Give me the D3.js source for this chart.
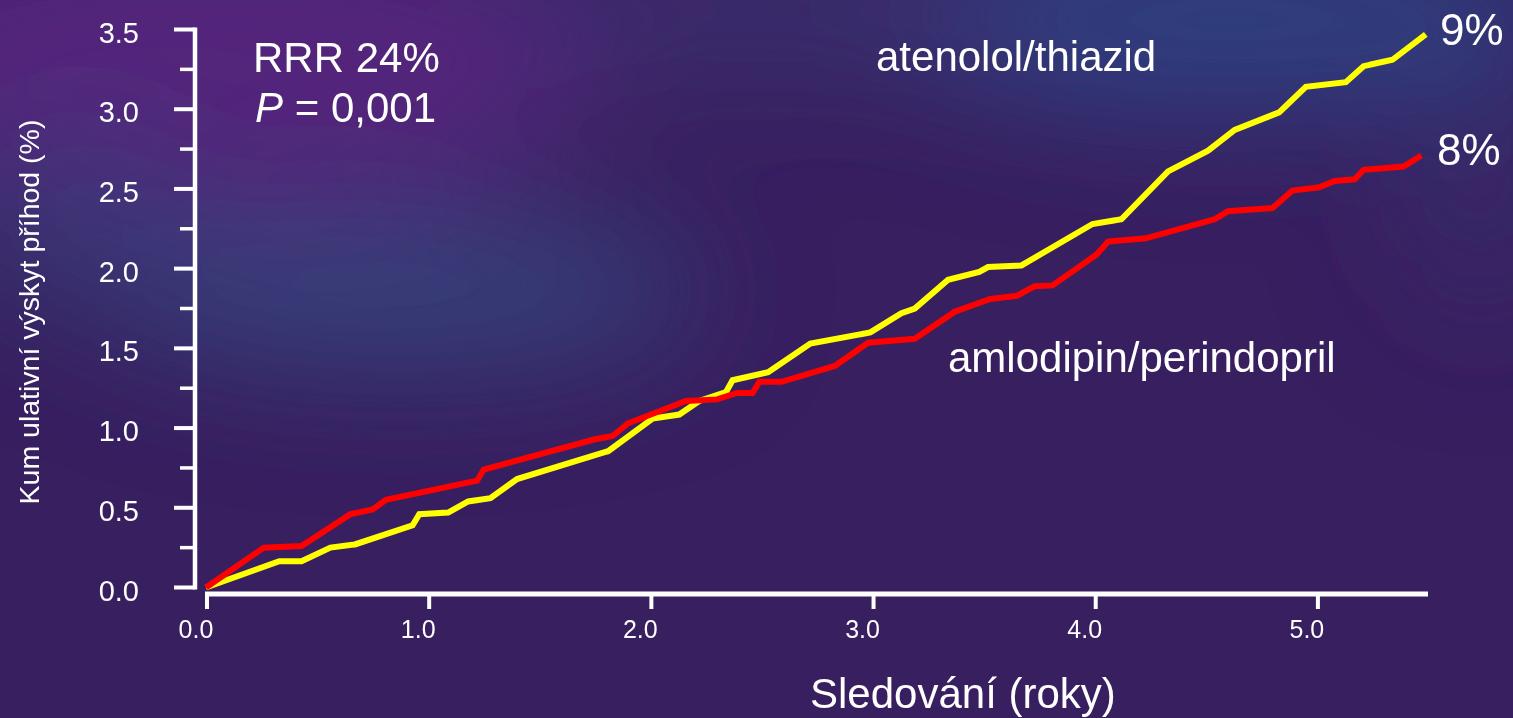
<!DOCTYPE html>
<html><head><meta charset="utf-8">
<script src="https://cdn.jsdelivr.net/npm/d3@7"></script>
<style>
html,body{margin:0;padding:0;background:#381f60;overflow:hidden;}
svg{display:block;font-family:"Liberation Sans",Arial,sans-serif;}
</style></head><body>
<svg id="c" width="1513" height="718"></svg>
<script>
// ---- data ----
const atenololT = [0, 0.33, 0.43, 0.56, 0.67, 0.93, 0.96, 1.09, 1.18, 1.28, 1.40, 1.81, 2.01, 2.13, 2.22, 2.34, 2.37, 2.53, 2.72, 2.99, 3.13, 3.19, 3.34, 3.48, 3.52, 3.67, 3.99, 4.12, 4.33, 4.51, 4.63, 4.83, 4.95, 5.13, 5.21, 5.34, 5.49];
const atenololV = [0, 0.165, 0.165, 0.25, 0.27, 0.39, 0.46, 0.47, 0.54, 0.56, 0.68, 0.855, 1.06, 1.085, 1.17, 1.225, 1.30, 1.35, 1.53, 1.60, 1.72, 1.75, 1.93, 1.98, 2.01, 2.02, 2.28, 2.31, 2.61, 2.74, 2.87, 2.98, 3.14, 3.17, 3.27, 3.31, 3.47];
const amlodipinT = [0, 0.26, 0.43, 0.65, 0.75, 0.81, 1.22, 1.25, 1.75, 1.83, 1.90, 2.16, 2.30, 2.39, 2.46, 2.49, 2.59, 2.83, 2.98, 3.19, 3.37, 3.53, 3.65, 3.73, 3.81, 4.01, 4.06, 4.23, 4.54, 4.60, 4.80, 4.89, 5.01, 5.08, 5.17, 5.21, 5.39, 5.47];
const amlodipinV = [0, 0.25, 0.26, 0.46, 0.49, 0.55, 0.67, 0.74, 0.93, 0.95, 1.03, 1.17, 1.18, 1.22, 1.22, 1.29, 1.29, 1.39, 1.535, 1.56, 1.73, 1.81, 1.83, 1.89, 1.895, 2.09, 2.17, 2.19, 2.31, 2.36, 2.38, 2.49, 2.51, 2.55, 2.56, 2.62, 2.64, 2.71];
const xTicks = [0, 1, 2, 3, 4, 5];
const yMajorTicks = [0, 0.5, 1, 1.5, 2, 2.5, 3, 3.5];
const yMinorTicks = [0.25, 0.75, 1.25, 1.75, 2.25, 2.75, 3.25];
const seriesNames = ["atenolol/thiazid", "amlodipin/perindopril"];
const endLabels = ["9%", "8%"];
const xTitle = "Sledování (roky)";
const yTitle = "Kum ulativní výskyt příhod (%)";

// ---- drawing ----
const svg = d3.select("#c");
const W = 1513, H = 718;

// background
const defs = svg.append("defs");
defs.append("filter").attr("id","blur").attr("x","-50%").attr("y","-50%").attr("width","200%").attr("height","200%")
  .append("feGaussianBlur").attr("stdDeviation", 65);
svg.append("rect").attr("width", W).attr("height", H).attr("fill", "#381f60");
const bg = svg.append("g").attr("filter","url(#blur)");
const blobs = [
  {cx: 220, cy: 60, rx: 380, ry: 150, c: "#5a2682", o: 0.8},
  {cx: 400, cy: 290, rx: 300, ry: 75, c: "#35477f", o: 0.9},
  {cx: 70, cy: 220, rx: 120, ry: 80, c: "#36407c", o: 0.7},
  {cx: 1230, cy: 20, rx: 340, ry: 90, c: "#2f4785", o: 0.9},
  {cx: 760, cy: 10, rx: 260, ry: 60, c: "#3a3a7c", o: 0.6},
  {cx: 1480, cy: 200, rx: 80, ry: 120, c: "#3a3170", o: 0.5}
];
bg.selectAll("ellipse").data(blobs).join("ellipse")
  .attr("cx", d=>d.cx).attr("cy", d=>d.cy).attr("rx", d=>d.rx).attr("ry", d=>d.ry)
  .attr("fill", d=>d.c).attr("opacity", d=>d.o);

const x = d3.scaleLinear().domain([0, 5.5]).range([206, 1428]);
const y = d3.scaleLinear().domain([0, 3.5]).range([587.5, 29.5]);

const white = "#ffffff";

// y axis
const yAxisX = 195;
svg.append("line").attr("x1", yAxisX).attr("x2", yAxisX).attr("y1", y(3.5)-2).attr("y2", y(0)+2)
  .attr("stroke", white).attr("stroke-width", 4.5);
svg.selectAll(".ymaj").data(yMajorTicks).join("line")
  .attr("x1", 174).attr("x2", yAxisX).attr("y1", d=>y(d)).attr("y2", d=>y(d))
  .attr("stroke", white).attr("stroke-width", 4);
svg.selectAll(".ymin").data(yMinorTicks).join("line")
  .attr("x1", 180).attr("x2", yAxisX).attr("y1", d=>y(d)).attr("y2", d=>y(d))
  .attr("stroke", white).attr("stroke-width", 3.5);
svg.selectAll(".ylab").data(yMajorTicks).join("text")
  .attr("x", 139).attr("y", d=>y(d)+13).attr("text-anchor","end")
  .attr("fill", white).attr("font-size", 29).text(d=>d3.format(".1f")(d));

// x axis
const xAxisY = 594;
svg.append("line").attr("x1", 205).attr("x2", x(5.5)).attr("y1", xAxisY).attr("y2", xAxisY)
  .attr("stroke", white).attr("stroke-width", 5);
svg.selectAll(".xt").data(xTicks).join("line")
  .attr("x1", d=>x(d)+1).attr("x2", d=>x(d)+1).attr("y1", xAxisY).attr("y2", 609)
  .attr("stroke", white).attr("stroke-width", 4);
svg.selectAll(".xlab").data(xTicks).join("text")
  .attr("x", d=>x(d)-10).attr("y", 638).attr("text-anchor","middle")
  .attr("fill", white).attr("font-size", 25).text(d=>d3.format(".1f")(d));

// lines
const line = d3.line().x(d=>x(d[0])).y(d=>y(d[1]));
const atenolol = atenololT.map((t,i)=>[t, atenololV[i]]);
const amlodipin = amlodipinT.map((t,i)=>[t, amlodipinV[i]]);
svg.append("path").datum(atenolol).attr("d", line).attr("fill","none")
  .attr("stroke","#ffff00").attr("stroke-width",6).attr("stroke-linejoin","miter");
svg.append("path").datum(amlodipin).attr("d", line).attr("fill","none")
  .attr("stroke","#ff0000").attr("stroke-width",6).attr("stroke-linejoin","miter");

// titles
svg.append("text").attr("x", 810).attr("y", 708).attr("fill", white).attr("font-size", 42).text(xTitle);
svg.append("text").attr("transform","translate(39,312) rotate(-90)").attr("text-anchor","middle")
  .attr("fill", white).attr("font-size", 28.5).text(yTitle);

// annotations
svg.append("text").attr("x", 253).attr("y", 72).attr("fill", white).attr("font-size", 42).text("RRR 24%");
const p = svg.append("text").attr("x", 255).attr("y", 122).attr("fill", white).attr("font-size", 42);
p.append("tspan").attr("font-style","italic").text("P");
p.append("tspan").text(" = 0,001");
svg.append("text").attr("x", 876).attr("y", 71).attr("fill", white).attr("font-size", 42).text(seriesNames[0]);
svg.append("text").attr("x", 948).attr("y", 372).attr("fill", white).attr("font-size", 42).text(seriesNames[1]);
svg.append("text").attr("x", 1440).attr("y", 45).attr("fill", white).attr("font-size", 44).text(endLabels[0]);
svg.append("text").attr("x", 1437).attr("y", 165).attr("fill", white).attr("font-size", 44).text(endLabels[1]);
</script>
</body></html>
